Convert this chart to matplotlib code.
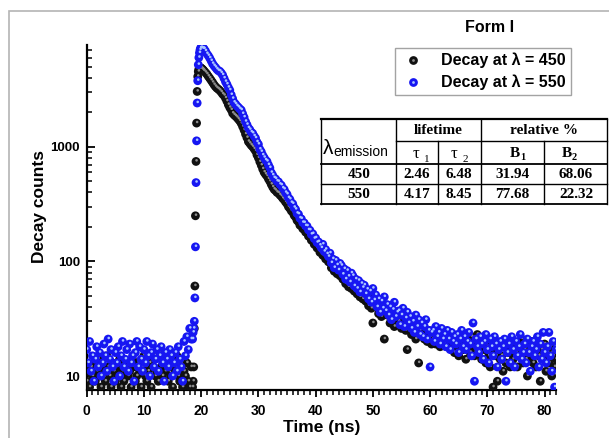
import numpy as np
import matplotlib
matplotlib.use("Agg")
import matplotlib.pyplot as plt
from matplotlib.lines import Line2D
from matplotlib.patches import Rectangle
from matplotlib.transforms import ScaledTranslation
from matplotlib.ticker import FixedLocator, LogLocator, NullFormatter, FuncFormatter, MultipleLocator
from matplotlib.legend_handler import HandlerTuple

plt.rcParams['font.family'] = ['Liberation Sans', 'DejaVu Sans']

# time channels (ns): baseline, rising edge (finer), decay
t_base = np.arange(0, 18.3, 0.25)
t_rise = np.arange(18.5, 20.45, 0.1)
t_tail = np.arange(20.5, 82.01, 0.25)
time = np.concatenate([t_base, t_rise, t_tail])

counts_450 = [
    # baseline 0 - 18.25
    9, 11, 8, 12, 10, 13, 9, 11, 14, 10, 8, 12, 11, 9, 15, 12, 10, 8, 13, 11,
    9, 12, 10, 14, 8, 11, 9, 13, 12, 10, 11, 8, 14, 12, 9, 10, 13, 11, 8, 12,
    15, 10, 9, 11, 13, 8, 12, 14, 10, 11, 9, 16, 12, 10, 13, 11, 14, 9, 12, 10,
    8, 13, 11, 15, 10, 9, 12, 8, 11, 10, 13, 9, 8, 12,
    # rise 18.5 - 20.4
    8, 9, 12, 26, 61, 250, 745, 1610, 3040, 4100,
    4540, 4750, 4850, 4900, 4880, 4850, 4800, 4760, 4700, 4640,
    # decay 20.5 - 82
    4580, 4450, 4300, 4120, 3960, 3800, 3640, 3480,
    3350, 3250, 3180, 3100, 3000, 2880, 2800, 2660,
    2500, 2330, 2200, 2100, 1960, 1900, 1850, 1800,
    1740, 1680, 1600, 1500, 1400, 1290, 1200, 1110,
    1070, 1030, 1000, 960, 920, 850, 800, 740,
    690, 640, 600, 575, 555, 525, 500, 470,
    445, 425, 415, 400, 395, 380, 370, 355,
    345, 330, 318, 300, 290, 276, 268, 252,
    244, 228, 222, 207, 205, 193, 190, 180,
    178, 166, 165, 153, 152, 141, 140, 131,
    132, 120, 126, 113, 117, 105, 108, 99,
    104, 88, 97, 82, 92, 78, 87, 75,
    83, 70, 78, 64, 74, 60, 69, 58,
    66, 55, 63, 52, 60, 49, 57, 47,
    54, 45, 50, 41, 48, 39, 29, 44,
    40, 45, 35, 41, 33, 39, 21, 37,
    34, 38, 29, 35, 30, 27, 36, 31,
    30, 33, 26, 32, 27, 25, 17, 31,
    28, 23, 29, 24, 21, 27, 13, 25,
    23, 26, 21, 24, 20, 25, 22, 19,
    21, 24, 19, 23, 20, 18, 22, 25,
    19, 22, 18, 21, 24, 17, 20, 16,
    21, 18, 15, 20, 23, 17, 19, 14,
    17, 20, 16, 22, 18, 15, 19, 23,
    16, 19, 14, 21, 17, 13, 18, 15,
    12, 17, 8, 19, 15, 9, 18, 14,
    15, 11, 18, 13, 20, 16, 12, 17,
    14, 19, 16, 12, 18, 15, 21, 13,
    17, 14, 10, 18, 15, 20, 13, 16,
    12, 18, 15, 9, 17, 14, 19, 11,
    16, 13, 18, 10, 15, 12, 14,
]

counts_550 = [
    # baseline 0 - 18.25
    17, 13, 20, 11, 15, 9, 14, 18, 12, 16, 10, 13, 19, 15, 11, 21, 14, 17, 12, 9,
    16, 13, 18, 10, 15, 20, 12, 14, 17, 11, 19, 13, 15, 9, 16, 20, 12, 18, 14, 11,
    17, 13, 20, 15, 10, 16, 19, 12, 14, 17, 11, 15, 18, 13, 9, 16, 14, 12, 17, 15,
    10, 13, 16, 11, 18, 14, 12, 9, 20, 15, 22, 17, 26, 21,
    # rise 18.5 - 20.4
    21, 24, 26, 30, 48, 134, 487, 1127, 2410, 3770,
    5200, 6000, 6600, 7000, 7250, 7300, 7280, 7250, 7220, 7180,
    # decay 20.5 - 82
    7150, 6850, 6480, 6230, 5940, 5620, 5310, 5090,
    4920, 4740, 4610, 4560, 4410, 4230, 3960, 3700,
    3510, 3290, 3120, 2840, 2630, 2440, 2360, 2270,
    2210, 2140, 2090, 1940, 1810, 1660, 1560, 1460,
    1410, 1340, 1310, 1240, 1190, 1100, 1050, 950,
    905, 845, 805, 765, 745, 695, 655, 595,
    565, 535, 525, 500, 495, 470, 462, 435,
    425, 398, 385, 358, 348, 325, 318, 295,
    284, 262, 258, 238, 235, 218, 217, 204,
    203, 188, 187, 172, 174, 158, 160, 146,
    148, 138, 131, 141, 122, 127, 116, 110,
    118, 97, 105, 88, 102, 93, 84, 96,
    92, 77, 86, 70, 83, 74, 66, 79,
    75, 61, 70, 58, 68, 54, 64, 59,
    62, 52, 57, 47, 55, 44, 58, 46,
    51, 40, 47, 36, 45, 39, 49, 37,
    42, 34, 40, 31, 38, 44, 33, 36,
    37, 28, 34, 39, 27, 32, 36, 29,
    33, 26, 30, 24, 34, 27, 31, 23,
    29, 22, 27, 31, 21, 25, 12, 24,
    25, 20, 27, 22, 24, 19, 26, 21,
    23, 18, 25, 21, 17, 24, 20, 22,
    19, 23, 16, 21, 25, 18, 22, 17,
    20, 24, 19, 15, 29, 9, 21, 18,
    16, 22, 19, 14, 20, 23, 17, 13,
    21, 18, 15, 22, 19, 12, 17, 20,
    14, 18, 21, 9, 16, 19, 13, 22,
    17, 12, 20, 15, 18, 23, 14, 16,
    19, 13, 21, 16, 11, 18, 20, 15,
    17, 22, 12, 19, 14, 24, 16, 13,
    18, 24, 15, 11, 20, 8, 17,
]

labels = ["Decay at λ = 450", "Decay at λ = 550"]
table_head = ["lifetime", "relative %"]
table_rows = [["450", "2.46", "6.48", "31.94", "68.06"],
              ["550", "4.17", "8.45", "77.68", "22.32"]]

W, H = 609, 438
fig = plt.figure(figsize=(W / 100, H / 100), dpi=100)


def fx(x):
    return x / W


def fy(y):
    return 1 - y / H


ax = fig.add_axes([fx(86.7), fy(390), (556 - 86.7) / W, (390 - 45) / H])


def spheres(x, y, face, shine, z):
    ax.scatter(x, y, s=40, c=face, edgecolors='none', zorder=z)
    off = ax.transData + ScaledTranslation(0.4 / 72, 0.8 / 72, fig.dpi_scale_trans)
    ax.scatter(x, y, s=3.5, c=shine, edgecolors='none', zorder=z + 0.5, transform=off)


spheres(time, counts_450, '#111111', '#8c8c8c', 3)
spheres(time, counts_550, '#1616f2', '#a8c4ff', 4)

ax.set_yscale('log')
ax.set_xlim(0, 82)
ax.set_ylim(7.55, 7730)

ax.xaxis.set_major_locator(MultipleLocator(10))
ax.xaxis.set_minor_locator(MultipleLocator(1))
ax.yaxis.set_major_locator(FixedLocator([10, 100, 1000]))
ax.yaxis.set_major_formatter(FuncFormatter(lambda v, p: f"{v:g}"))
ax.yaxis.set_minor_locator(LogLocator(subs=range(2, 10)))
ax.yaxis.set_minor_formatter(NullFormatter())

for s in ['top', 'right']:
    ax.spines[s].set_visible(False)
for s in ['left', 'bottom']:
    ax.spines[s].set_linewidth(1.6)

ax.tick_params(axis='x', which='major', direction='out', length=5, width=1.3, pad=5, labelsize=10)
ax.tick_params(axis='x', which='minor', direction='out', length=3.5, width=1.1)
ax.tick_params(axis='y', which='major', direction='in', length=5.5, width=1.3, pad=5, labelsize=9.5)
ax.tick_params(axis='y', which='minor', direction='in', length=3.5, width=1.1)
for lab in ax.get_xticklabels() + ax.get_yticklabels():
    lab.set_fontweight('bold')

ax.set_xlabel("Time (ns)", fontsize=12.5, fontweight='bold', va='center')
ax.set_ylabel("Decay counts", fontsize=12.5, fontweight='bold', va='center')
ax.xaxis.set_label_coords(0.5, -0.110)
ax.yaxis.set_label_coords(-0.100, 0.533)

# legend with sphere-like handles
h450 = (Line2D([], [], ls='none', marker='o', ms=6.3, mfc='#111111', mec='none'),
        Line2D([], [], ls='none', marker='o', ms=2, mfc='#8c8c8c', mec='none'))
h550 = (Line2D([], [], ls='none', marker='o', ms=6.3, mfc='#1616f2', mec='none'),
        Line2D([], [], ls='none', marker='o', ms=2, mfc='#a8c4ff', mec='none'))
leg = fig.legend([h450, h550], labels, handler_map={tuple: HandlerTuple(ndivide=1)},
                 loc='upper left', bbox_to_anchor=(fx(395), fy(48)), bbox_transform=fig.transFigure,
                 borderaxespad=0, prop={'size': 11.5, 'weight': 'bold'}, frameon=True, fancybox=False,
                 borderpad=0.3, labelspacing=0.4, handlelength=1.6, handletextpad=1.0)
leg.get_frame().set_edgecolor('#8c8c8c')
leg.get_frame().set_linewidth(1.0)

fig.text(fx(490), fy(28), "Form I", ha='center', va='center', fontsize=11.5, fontweight='bold')

# gray frame around the picture
fig.add_artist(Rectangle((fx(8.5), fy(460)), 1.2, fy(11) - fy(460), transform=fig.transFigure,
                         fill=False, edgecolor='#b4b4b4', lw=1.2))


# table
def hline(y, x0, x1, lw=1.0):
    fig.add_artist(Line2D([fx(x0), fx(x1)], [fy(y), fy(y)], transform=fig.transFigure, color='black', lw=lw))


def vline(x, y0, y1, lw=1.0):
    fig.add_artist(Line2D([fx(x), fx(x)], [fy(y0), fy(y1)], transform=fig.transFigure, color='black', lw=lw))


xs = [321, 395.7, 437.7, 480.8, 543.7, 606.6]
hline(119, xs[0], xs[-1], 1.6)
hline(141, xs[1], xs[-1])
hline(164, xs[0], xs[-1], 1.3)
hline(184, xs[0], xs[-1])
hline(204, xs[0], xs[-1], 1.3)
for x in [xs[0], xs[1], xs[3], xs[-1]]:
    vline(x, 119, 204)
for x in [xs[2], xs[4]]:
    vline(x, 141, 204)

serif = ['Liberation Serif', 'DejaVu Serif']
fig.text(fx(328), fy(149), "λ", ha='center', va='center', fontsize=15)
fig.text(fx(333.5), fy(152), "emission", ha='left', va='center', fontsize=10)
fig.text(fx(438.3), fy(130.5), table_head[0], ha='center', va='center', fontsize=11,
         fontweight='bold', family=serif)
fig.text(fx(543.7), fy(130.5), table_head[1], ha='center', va='center', fontsize=11,
         fontweight='bold', family=serif)
fig.text(fx(416), fy(154), "τ", ha='center', va='center', fontsize=12, family=serif)
fig.text(fx(426.5), fy(159), "1", ha='center', va='center', fontsize=8, family=serif)
fig.text(fx(454), fy(154), "τ", ha='center', va='center', fontsize=12, family=serif)
fig.text(fx(465), fy(159), "2", ha='center', va='center', fontsize=8, family=serif)
fig.text(fx(515), fy(154), "B", ha='center', va='center', fontsize=11, fontweight='bold', family=serif)
fig.text(fx(522.5), fy(158), "1", ha='center', va='center', fontsize=7.5, fontweight='bold', family=serif)
fig.text(fx(567), fy(154), "B", ha='center', va='center', fontsize=11, fontweight='bold', family=serif)
fig.text(fx(574.5), fy(158), "2", ha='center', va='center', fontsize=7.5, fontweight='bold', family=serif)

col_centers = [359, 416.7, 459.2, 512.2, 576]
for row, yc in zip(table_rows, [174.5, 194.5]):
    for val, xc in zip(row, col_centers):
        fig.text(fx(xc), fy(yc), val, ha='center', va='center', fontsize=11,
                 fontweight='bold', family=serif)

fig.savefig("out.png", dpi=100)
